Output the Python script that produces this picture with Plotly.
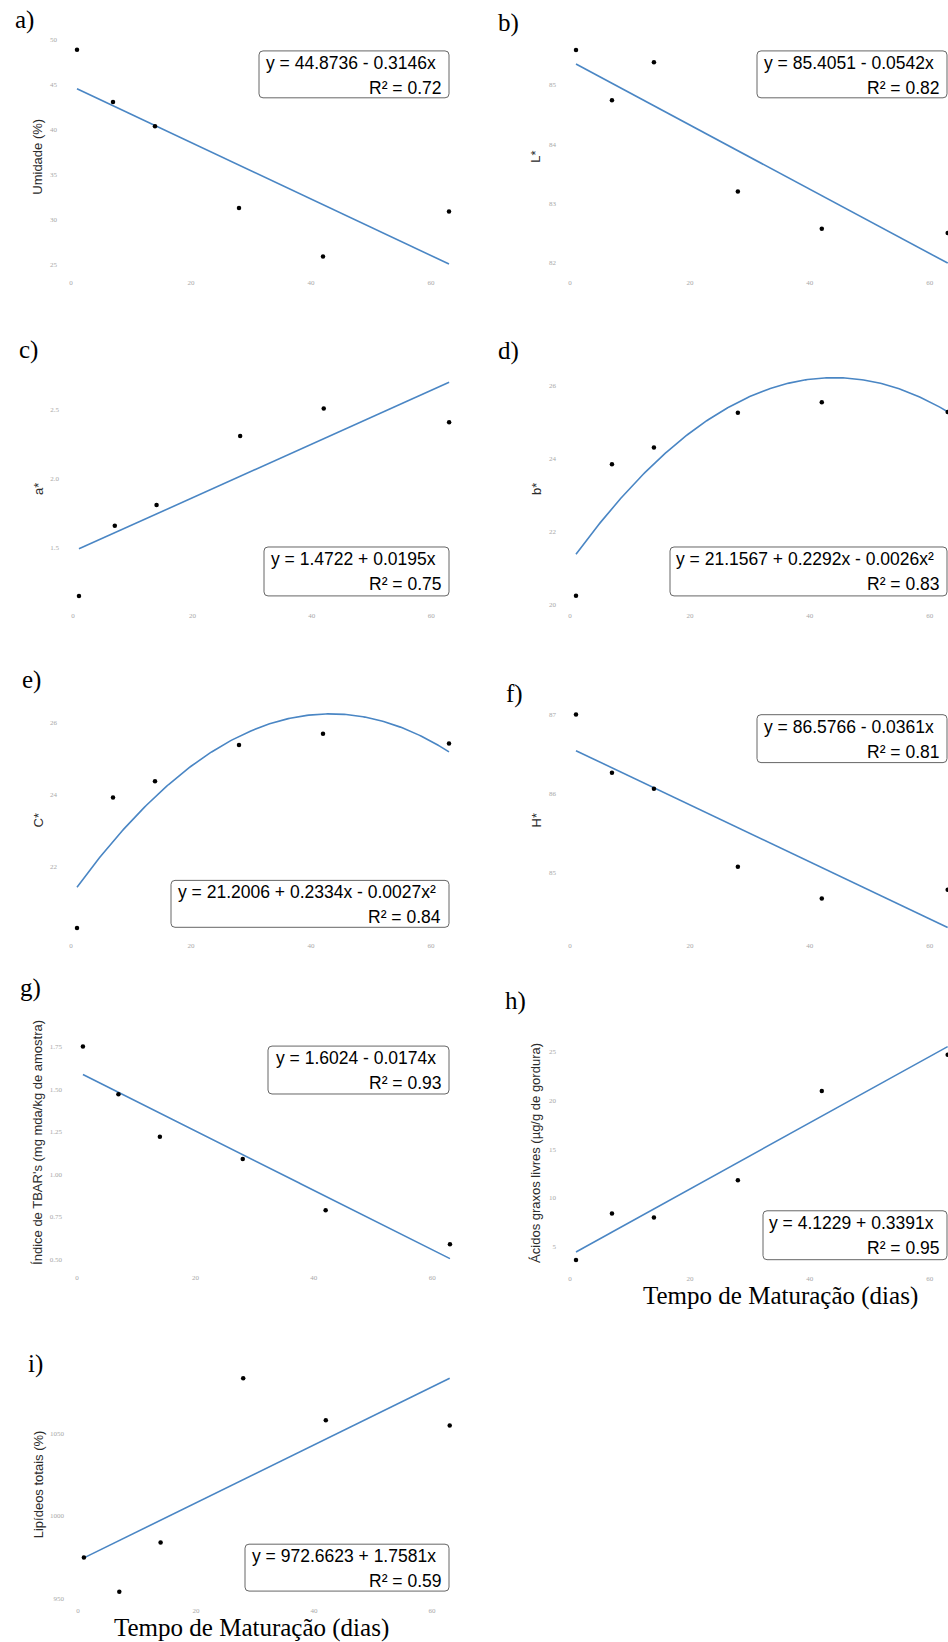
import numpy as np
import plotly.graph_objects as go

W, H = 948, 1642

# ---------------- data ----------------
dias = [1, 7, 14, 28, 42, 63]
umidade = [48.9, 43.1, 40.4, 31.3, 25.9, 30.9]
L_star = [85.59, 84.74, 85.38, 83.20, 82.57, 82.50]
a_star = [1.15, 1.66, 1.81, 2.31, 2.51, 2.41]
b_star = [20.25, 23.84, 24.30, 25.25, 25.54, 25.27]
C_star = [20.30, 23.92, 24.37, 25.38, 25.69, 25.42]
H_star = [87.00, 86.26, 86.06, 85.07, 84.67, 84.78]
tbars = [1.75, 1.47, 1.22, 1.09, 0.79, 0.59]
acidos = [3.64, 8.40, 7.99, 11.80, 20.95, 24.65]
lipideos = [974.7, 953.8, 983.8, 1083.5, 1057.9, 1054.8]

# regression coefficients (c0, c1, c2)
coef_a = [44.8736, -0.3146, 0.0]
coef_b = [85.4051, -0.0542, 0.0]
coef_c = [1.4722, 0.0195, 0.0]
coef_d = [21.1567, 0.2292, -0.0026]
coef_e = [21.2006, 0.2334, -0.0027]
coef_f = [86.5766, -0.0361, 0.0]
coef_g = [1.6024, -0.0174, 0.0]
coef_h = [4.1229, 0.3391, 0.0]
coef_i = [972.6623, 1.7581, 0.0]

eq_a = ["y = 44.8736 - 0.3146x", "R² = 0.72"]
eq_b = ["y = 85.4051 - 0.0542x", "R² = 0.82"]
eq_c = ["y = 1.4722 + 0.0195x", "R² = 0.75"]
eq_d = ["y = 21.1567 + 0.2292x - 0.0026x²", "R² = 0.83"]
eq_e = ["y = 21.2006 + 0.2334x - 0.0027x²", "R² = 0.84"]
eq_f = ["y = 86.5766 - 0.0361x", "R² = 0.81"]
eq_g = ["y = 1.6024 - 0.0174x", "R² = 0.93"]
eq_h = ["y = 4.1229 + 0.3391x", "R² = 0.95"]
eq_i = ["y = 972.6623 + 1.7581x", "R² = 0.59"]

ytitles = ["Umidade (%)", "L*", "a*", "b*", "C*", "H*",
           "Índice de TBAR's (mg mda/kg de amostra)",
           "Ácidos graxos livres (µg/g de gordura)",
           "Lipídeos totais (%)"]
letters = ["a)", "b)", "c)", "d)", "e)", "f)", "g)", "h)", "i)"]

xticks = [0, 20, 40, 60]
yticks_a = [25, 30, 35, 40, 45, 50]
yticks_b = [82, 83, 84, 85]
yticks_c = [1.5, 2.0, 2.5]
yticks_d = [20, 22, 24, 26]
yticks_e = [22, 24, 26]
yticks_f = [85, 86, 87]
yticks_g = [0.50, 0.75, 1.00, 1.25, 1.50, 1.75]
yticks_h = [5, 10, 15, 20, 25]
yticks_i = [950, 1000, 1050]

ytext_c = ["1.5", "2.0", "2.5"]
ytext_g = ["0.50", "0.75", "1.00", "1.25", "1.50", "1.75"]

# ---------------- layout geometry (pixels) ----------------
# dom: (left, right, top, bottom); xmap: (px of x=0, px per unit);
# ymap: (v1, px1, v2, px2); box: (l, t, r, b); lab: (x_left, y_center); ytp: (x, y)
panels = [
    dict(y=umidade, c=coef_a, eq=eq_a, yt=yticks_a, ytt=None,
         dom=(58, 456, 36, 273), xmap=(71, 6.0), ymap=(50, 40, 25, 265),
         box=(259, 51, 449, 98), lab=(13, 20), ytp=(38, 157)),
    dict(y=L_star, c=coef_b, eq=eq_b, yt=yticks_b, ytt=None,
         dom=(557, 948, 36, 273), xmap=(570, 5.995), ymap=(85, 85, 82, 263),
         box=(757, 51, 947, 98), lab=(496, 23), ytp=(536, 157)),
    dict(y=a_star, c=coef_c, eq=eq_c, yt=yticks_c, ytt=ytext_c,
         dom=(60, 456, 375, 607), xmap=(73, 5.97), ymap=(2.5, 410.7, 1.5, 548.7),
         box=(264, 548, 449, 597), lab=(17, 351), ytp=(38, 490)),
    dict(y=b_star, c=coef_d, eq=eq_d, yt=yticks_d, ytt=None,
         dom=(557, 948, 375, 607), xmap=(570, 5.995), ymap=(26, 386, 20, 606),
         box=(670, 548, 947, 597), lab=(496, 352), ytp=(536, 490)),
    dict(y=C_star, c=coef_e, eq=eq_e, yt=yticks_e, ytt=None,
         dom=(58, 456, 700, 938), xmap=(71, 6.0), ymap=(26, 724, 22, 868.3),
         box=(171, 882, 449, 929), lab=(20, 681), ytp=(38, 822)),
    dict(y=H_star, c=coef_f, eq=eq_f, yt=yticks_f, ytt=None,
         dom=(557, 948, 700, 938), xmap=(570, 5.995), ymap=(87, 715.7, 85, 874),
         box=(757, 716, 947, 764), lab=(504, 695), ytp=(536, 822)),
    dict(y=tbars, c=coef_g, eq=eq_g, yt=yticks_g, ytt=ytext_g,
         dom=(63, 456, 1035, 1270), xmap=(77, 5.92), ymap=(1.75, 1048.3, 0.5, 1262),
         box=(268, 1048, 449, 1096), lab=(18, 990), ytp=(38, 1145)),
    dict(y=acidos, c=coef_h, eq=eq_h, yt=yticks_h, ytt=None,
         dom=(557, 948, 1040, 1271), xmap=(570, 5.995), ymap=(25, 1053.3, 5, 1249),
         box=(763, 1213, 947, 1262), lab=(503, 1003), ytp=(536, 1155)),
    dict(y=lipideos, c=coef_i, eq=eq_i, yt=yticks_i, ytt=None,
         dom=(65, 456, 1370, 1604), xmap=(78, 5.9), ymap=(1050, 1436, 950, 1601),
         box=(245, 1547, 449, 1594), lab=(26, 1366), ytp=(38, 1487)),
]

SERIF = "Liberation Serif, Times New Roman, serif"
SANS = "Liberation Sans, Arial, sans-serif"
LINE_COLOR = "#4a86c4"

def px_x(p):
    return p / W

def px_y(p):
    return 1 - p / H

fig = go.Figure()
layout = dict(width=W, height=H, autosize=False,
              margin=dict(l=0, r=0, t=0, b=0, pad=0),
              paper_bgcolor="white", plot_bgcolor="rgba(0,0,0,0)",
              showlegend=False)
annotations = []
shapes = []

xfit = np.linspace(min(dias), max(dias), 200)

for i, p in enumerate(panels):
    n = "" if i == 0 else str(i + 1)
    xa, ya = "x" + n, "y" + n
    l, r, t, b = p["dom"]
    x0, xs = p["xmap"]
    v1, p1, v2, p2 = p["ymap"]
    sl = (v2 - v1) / (p2 - p1)
    yr = [v1 + (b - p1) * sl, v1 + (t - p1) * sl]
    xr = [(l - x0) / xs, (r - x0) / xs]

    c0, c1, c2 = p["c"]
    yfit = c0 + c1 * xfit + c2 * xfit ** 2
    fig.add_trace(go.Scatter(x=xfit, y=yfit, mode="lines", xaxis=xa, yaxis=ya,
                             line=dict(color=LINE_COLOR, width=1.6),
                             hoverinfo="skip", cliponaxis=True))
    fig.add_trace(go.Scatter(x=dias, y=p["y"], mode="markers", xaxis=xa, yaxis=ya,
                             marker=dict(color="black", size=4.5),
                             cliponaxis=True))

    axcommon = dict(showgrid=False, zeroline=False, showline=False, ticks="",
                    tickfont=dict(size=7, color="#a8a8a8", family=SERIF),
                    fixedrange=True)
    layout["xaxis" + n] = dict(domain=[px_x(l), px_x(r)], range=xr,
                               anchor=ya, tickvals=xticks,
                               ticklabelstandoff=4, **axcommon)
    yax = dict(domain=[px_y(b), px_y(t)], range=yr, anchor=xa,
               tickvals=p["yt"], **axcommon)
    if p["ytt"] is not None:
        yax["ticktext"] = p["ytt"]
    layout["yaxis" + n] = yax

    # panel letter
    lx, ly = p["lab"]
    annotations.append(dict(text=letters[i], x=px_x(lx), y=px_y(ly),
                            xref="paper", yref="paper", xanchor="left",
                            yanchor="middle", showarrow=False,
                            font=dict(family=SERIF, size=25, color="black")))
    # y title
    tx, ty = p["ytp"]
    annotations.append(dict(text=ytitles[i], x=px_x(tx), y=px_y(ty),
                            xref="paper", yref="paper", xanchor="center",
                            yanchor="middle", textangle=-90, showarrow=False,
                            font=dict(family=SANS, size=13, color="#2b2b2b")))
    # equation box
    bl, bt, br, bb = p["box"]
    rr = 4
    path = (f"M {px_x(bl + rr)} {px_y(bt)} L {px_x(br - rr)} {px_y(bt)} "
            f"Q {px_x(br)} {px_y(bt)} {px_x(br)} {px_y(bt + rr)} "
            f"L {px_x(br)} {px_y(bb - rr)} "
            f"Q {px_x(br)} {px_y(bb)} {px_x(br - rr)} {px_y(bb)} "
            f"L {px_x(bl + rr)} {px_y(bb)} "
            f"Q {px_x(bl)} {px_y(bb)} {px_x(bl)} {px_y(bb - rr)} "
            f"L {px_x(bl)} {px_y(bt + rr)} "
            f"Q {px_x(bl)} {px_y(bt)} {px_x(bl + rr)} {px_y(bt)} Z")
    shapes.append(dict(type="path", path=path, xref="paper", yref="paper",
                       line=dict(color="#666666", width=1),
                       fillcolor="white", layer="below"))
    annotations.append(dict(text=p["eq"][0], x=px_x(br - 11), y=px_y(bt + 12),
                            xref="paper", yref="paper", xanchor="right",
                            yanchor="middle", showarrow=False,
                            font=dict(family=SANS, size=17.5, color="black")))
    annotations.append(dict(text=p["eq"][1], x=px_x(br - 6), y=px_y(bt + 37),
                            xref="paper", yref="paper", xanchor="right",
                            yanchor="middle", showarrow=False,
                            font=dict(family=SANS, size=17.5, color="black")))

# x-axis titles
for (cx, cy) in [(780, 1298), (252, 1631)]:
    annotations.append(dict(text="Tempo de Maturação (dias)", x=px_x(cx), y=px_y(cy),
                            xref="paper", yref="paper", xanchor="center",
                            yanchor="middle", showarrow=False,
                            font=dict(family=SERIF, size=25, color="black")))

layout["annotations"] = annotations
layout["shapes"] = shapes
fig.update_layout(**layout)
fig.write_html("out.html")
